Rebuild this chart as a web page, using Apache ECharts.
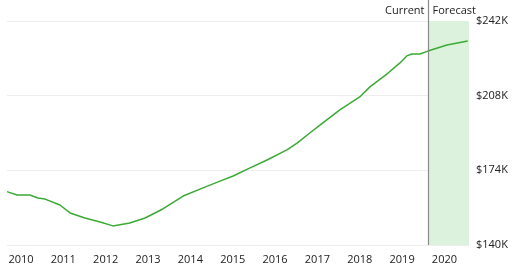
<!DOCTYPE html>
<html>
<head>
<meta charset="utf-8">
<script src="https://cdn.jsdelivr.net/npm/echarts@6/dist/echarts.min.js"></script>
<style>
html,body{margin:0;padding:0;background:#fff;}
#c{width:512px;height:272px;}
</style>
</head>
<body>
<div id="c"></div>
<script>
// Decimal years and home values (in $K)
var years = [2009.67, 2009.91, 2010.21, 2010.40, 2010.57, 2010.92, 2011.16, 2011.51, 2011.87, 2012.17,
  2012.57, 2012.93, 2013.35, 2013.83, 2014.30, 2014.70, 2015.01, 2015.41, 2015.81, 2016.28,
  2016.52, 2016.82, 2017.06, 2017.53, 2018.00, 2018.24, 2018.67, 2018.95, 2019.11, 2019.23,
  2019.42, 2019.61, 2020.06, 2020.55];
var values = [164.3, 162.8, 162.8, 161.4, 160.9, 158.2, 154.6, 152.3, 150.5, 148.7,
  150.0, 152.3, 156.4, 162.3, 166.0, 169.1, 171.4, 175.1, 178.7, 183.3,
  186.4, 191.0, 194.6, 201.5, 207.4, 212.0, 218.3, 222.9, 226.1, 227.0,
  227.0, 228.3, 231.1, 232.9];
var yearLabels = [2010, 2011, 2012, 2013, 2014, 2015, 2016, 2017, 2018, 2019, 2020];
var yTicks = [140, 174, 208, 242];
var forecastStart = 2019.61;
var xMin = 2009.67, xMax = 2020.58;

var data = years.map(function (y, i) { return [y, values[i]]; });

var chart = echarts.init(document.getElementById('c'), null, {renderer: 'canvas'});
var font = '"Open Sans", "Noto Sans", sans-serif';
chart.setOption({
  animation: false,
  grid: {left: 7, right: 43, top: 21, bottom: 27},
  xAxis: {
    type: 'value', min: xMin, max: xMax,
    axisLine: {show: false}, axisTick: {show: false}, splitLine: {show: false},
    axisLabel: {
      customValues: yearLabels, color: '#222', fontSize: 11, fontFamily: font, margin: 9,
      formatter: function (v) { return String(Math.round(v)); }
    }
  },
  yAxis: {
    type: 'value', position: 'right', min: yTicks[0], max: yTicks[yTicks.length - 1], interval: 34,
    axisLine: {show: false}, axisTick: {show: false},
    splitLine: {lineStyle: {color: '#eeeeee', width: 1}},
    axisLabel: {color: '#222', fontSize: 11, fontFamily: font, margin: 7,
      formatter: function (v) { return '$' + v + 'K'; }}
  },
  series: [{
    type: 'line', data: data, showSymbol: false, smooth: false,
    lineStyle: {color: '#3aaa35', width: 1.5},
    markArea: {silent: true, itemStyle: {color: '#ddf2dd'},
      data: [[{xAxis: forecastStart}, {xAxis: xMax}]]},
    z: 3
  }]
});

var p = chart.convertToPixel({gridIndex: 0}, [forecastStart, yTicks[0]]);
var px = Math.round(p[0]) + 0.5;
chart.setOption({
  graphic: [
    {type: 'line', shape: {x1: px, y1: 0, x2: px, y2: p[1]}, style: {stroke: '#8a8a8a', lineWidth: 1.2}, z: 10},
    {type: 'text', x: px - 4, y: 11, style: {text: 'Current', fill: '#222', font: '11px ' + font, textAlign: 'right', textVerticalAlign: 'middle'}},
    {type: 'text', x: px + 4, y: 11, style: {text: 'Forecast', fill: '#222', font: '11px ' + font, textAlign: 'left', textVerticalAlign: 'middle'}}
  ]
});
</script>
</body>
</html>
